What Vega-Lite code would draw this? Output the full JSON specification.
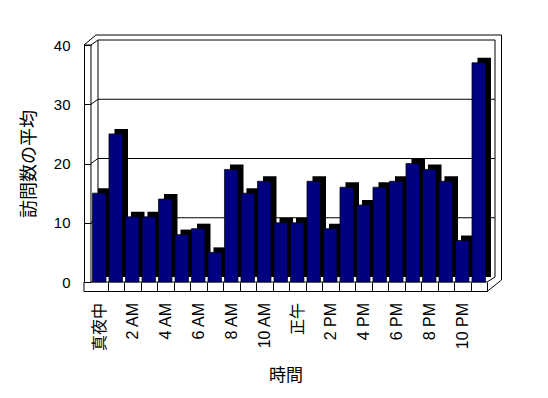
{
  "$schema": "https://vega.github.io/schema/vega-lite/v6.json",
  "width": 403,
  "height": 237,
  "autosize": {"type": "none"},
  "padding": {"left": 84, "top": 45, "right": 61, "bottom": 116},
  "background": "white",
  "config": {"view": {"stroke": null}, "font": "Liberation Sans, Noto Sans CJK JP", "rule": {"color": "black", "strokeWidth": 1}},
  "data": {"values": [
    {"hour": 0, "avg": 15}, {"hour": 1, "avg": 25}, {"hour": 2, "avg": 11}, {"hour": 3, "avg": 11},
    {"hour": 4, "avg": 14}, {"hour": 5, "avg": 8}, {"hour": 6, "avg": 9}, {"hour": 7, "avg": 5},
    {"hour": 8, "avg": 19}, {"hour": 9, "avg": 15}, {"hour": 10, "avg": 17}, {"hour": 11, "avg": 10},
    {"hour": 12, "avg": 10}, {"hour": 13, "avg": 17}, {"hour": 14, "avg": 9}, {"hour": 15, "avg": 16},
    {"hour": 16, "avg": 13}, {"hour": 17, "avg": 16}, {"hour": 18, "avg": 17}, {"hour": 19, "avg": 20},
    {"hour": 20, "avg": 19}, {"hour": 21, "avg": 17}, {"hour": 22, "avg": 7}, {"hour": 23, "avg": 37}
  ]},
  "layer": [
    {
      "data": {"values": [{"v": 10}, {"v": 20}, {"v": 30}, {"v": 40}]},
      "mark": {"type": "rule", "xOffset": 5.5, "x2Offset": 16.3, "yOffset": -5},
      "encoding": {
        "x": {"datum": 0, "type": "ordinal", "bandPosition": 0},
        "x2": {"datum": 23},
        "y": {"field": "v", "type": "quantitative"}
      }
    },
    {
      "data": {"values": [{"v": 10}, {"v": 20}, {"v": 30}, {"v": 40}]},
      "mark": {"type": "rule", "xOffset": -1.5, "x2Offset": -1.27, "y2Offset": -5},
      "encoding": {
        "x": {"datum": 0, "type": "ordinal", "bandPosition": 0},
        "x2": {"datum": 0},
        "y": {"field": "v", "type": "quantitative"},
        "y2": {"field": "v"}
      }
    },
    {
      "data": {"values": [{}]},
      "mark": {"type": "rule", "xOffset": 3.5, "x2Offset": 22.8, "yOffset": -10},
      "encoding": {
        "x": {"datum": 0, "type": "ordinal", "bandPosition": 0},
        "x2": {"datum": 23},
        "y": {"datum": 40, "type": "quantitative"}
      }
    },
    {
      "data": {"values": [{}]},
      "mark": {"type": "rule", "xOffset": -8.5, "x2Offset": -3.27, "y2Offset": -10},
      "encoding": {
        "x": {"datum": 0, "type": "ordinal", "bandPosition": 0},
        "x2": {"datum": 0},
        "y": {"datum": 40, "type": "quantitative"},
        "y2": {"datum": 40}
      }
    },
    {
      "data": {"values": [{}]},
      "mark": {"type": "rule", "xOffset": -8.5, "x2Offset": -8.27},
      "encoding": {
        "x": {"datum": 0, "type": "ordinal", "bandPosition": 0},
        "x2": {"datum": 0},
        "y": {"datum": 40, "type": "quantitative"}
      }
    },
    {
      "data": {"values": [{}]},
      "mark": {"type": "rule", "xOffset": -1.5},
      "encoding": {
        "x": {"datum": 0, "type": "ordinal", "bandPosition": 0},
        "y": {"datum": 0, "type": "quantitative"},
        "y2": {"datum": 40}
      }
    },
    {
      "data": {"values": [{}]},
      "mark": {"type": "rule", "xOffset": 5.5, "yOffset": -5, "y2Offset": -5},
      "encoding": {
        "x": {"datum": 0, "type": "ordinal", "bandPosition": 0},
        "y": {"datum": 0, "type": "quantitative"},
        "y2": {"datum": 40}
      }
    },
    {
      "data": {"values": [{}]},
      "mark": {"type": "rule", "xOffset": 9.5, "yOffset": -5, "y2Offset": -5},
      "encoding": {
        "x": {"datum": 23, "type": "ordinal", "bandPosition": 1},
        "y": {"datum": 0, "type": "quantitative"},
        "y2": {"datum": 40}
      }
    },
    {
      "data": {"values": [{}]},
      "mark": {"type": "rule", "xOffset": 16, "yOffset": -2, "y2Offset": -10},
      "encoding": {
        "x": {"datum": 23, "type": "ordinal", "bandPosition": 1},
        "y": {"datum": 0, "type": "quantitative"},
        "y2": {"datum": 40}
      }
    },
    {
      "data": {"values": [{}]},
      "mark": {"type": "rule", "xOffset": 16, "x2Offset": 8.27, "yOffset": -2, "y2Offset": 9.5},
      "encoding": {
        "x": {"datum": 23, "type": "ordinal", "bandPosition": 1},
        "x2": {"datum": 23},
        "y": {"datum": 0, "type": "quantitative"},
        "y2": {"datum": 0}
      }
    },
    {
      "data": {"values": [{}]},
      "mark": {"type": "rule", "xOffset": 9.5, "x2Offset": 8.27, "yOffset": -5, "y2Offset": 0},
      "encoding": {
        "x": {"datum": 23, "type": "ordinal", "bandPosition": 1},
        "x2": {"datum": 23},
        "y": {"datum": 0, "type": "quantitative"},
        "y2": {"datum": 0}
      }
    },
    {
      "data": {"values": [{}]},
      "mark": {"type": "rule", "xOffset": -8.5, "x2Offset": 8.27, "yOffset": 9.5},
      "encoding": {
        "x": {"datum": 0, "type": "ordinal", "bandPosition": 0},
        "x2": {"datum": 23},
        "y": {"datum": 0, "type": "quantitative"}
      }
    },
    {
      "data": {"values": [{}]},
      "mark": {"type": "rule", "xOffset": -8.5, "y2Offset": 9.5},
      "encoding": {
        "x": {"datum": 0, "type": "ordinal", "bandPosition": 0},
        "y": {"datum": 0, "type": "quantitative"},
        "y2": {"datum": 0}
      }
    },
    {
      "mark": {"type": "bar", "color": "black", "xOffset": 5.5, "yOffset": -5, "y2Offset": 0},
      "encoding": {
        "x": {"field": "hour", "type": "ordinal"},
        "y": {"field": "avg", "type": "quantitative"}
      }
    },
    {
      "data": {"values": [{}]},
      "mark": {"type": "rule", "xOffset": -1.5, "x2Offset": 8.27},
      "encoding": {
        "x": {"datum": 0, "type": "ordinal", "bandPosition": 0},
        "x2": {"datum": 23},
        "y": {"datum": 0, "type": "quantitative"}
      }
    },
    {
      "mark": {"type": "bar", "color": "#000080", "stroke": "black", "strokeWidth": 0.7},
      "encoding": {
        "x": {
          "field": "hour", "type": "ordinal",
          "scale": {"paddingInner": 0.18, "paddingOuter": 0.302, "align": 0.85},
          "axis": {
            "title": "時間", "domain": false, "grid": false,
            "ticks": true, "tickSize": 9.5, "tickColor": "black", "tickWidth": 1,
            "bandPosition": 1, "tickOffset": 1.5, "labelOffset": -1.5,
            "labelAngle": -90, "labelPadding": 11, "labelFontSize": 16, "labelColor": "black",
            "labelOverlap": false,
            "labelExpr": "datum.value == 0 ? '真夜中' : datum.value == 12 ? '正午' : datum.value % 2 == 1 ? '' : datum.value < 12 ? datum.value + ' AM' : (datum.value - 12) + ' PM'",
            "titleFont": "Noto Sans CJK JP", "titleFontSize": 17, "titleFontWeight": "normal", "titleColor": "black", "titlePadding": 17
          }
        },
        "y": {
          "field": "avg", "type": "quantitative",
          "scale": {"domain": [0, 40], "nice": false},
          "axis": {
            "title": "訪問数の平均", "values": [0, 10, 20, 30, 40], "grid": false,
            "domainColor": "black", "tickColor": "black", "tickSize": -7,
            "labelPadding": 21, "labelFontSize": 15, "labelColor": "black",
            "titleFont": "Noto Sans CJK JP", "titleFontSize": 18, "titleFontWeight": "normal", "titleColor": "black", "titlePadding": 15
          }
        }
      }
    }
  ]
}
